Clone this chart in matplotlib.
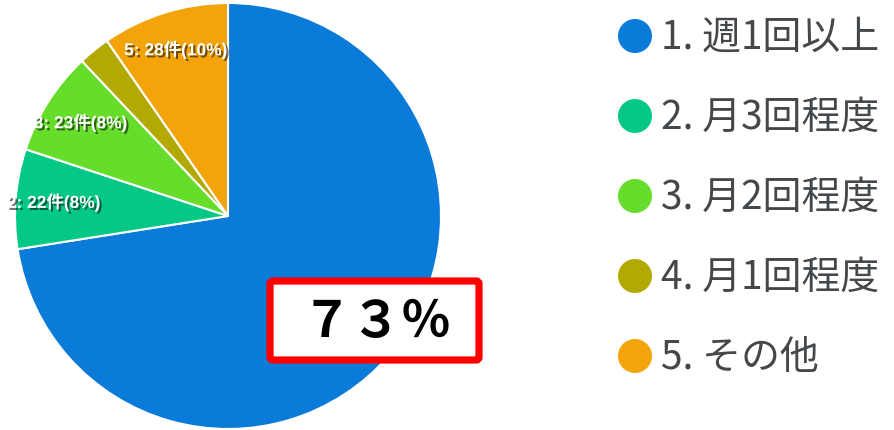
import matplotlib
matplotlib.use("Agg")
import matplotlib.pyplot as plt
import matplotlib.patheffects as pe
from matplotlib.patches import Ellipse, FancyBboxPatch
import numpy as np

categories = ["1. 週1回以上", "2. 月3回程度", "3. 月2回程度", "4. 月1回程度", "5. その他"]
counts = [211, 22, 23, 7, 28]
slice_labels = ["", "2: 22件(8%)", "3: 23件(8%)", "", "5: 28件(10%)"]
colors = ["#0a7bd8", "#04c986", "#66dd2b", "#b3a903", "#f4a40b"]
highlight = "７３％"

W, H = 894, 431
fig = plt.figure(figsize=(W / 100, H / 100), dpi=100)

cx, cy, r = 228, 431 - 217, 213
ax = fig.add_axes([(cx - r) / W, (cy - r) / H, 2 * r / W, 2 * r / H])
wedges, _ = ax.pie(counts, colors=colors, startangle=90, counterclock=False,
                   radius=1, wedgeprops=dict(edgecolor="white", linewidth=1.5))
ax.set_xlim(-1, 1)
ax.set_ylim(-1, 1)
ax.set_aspect("equal")
ax.axis("off")

for w, lab in zip(wedges, slice_labels):
    if not lab:
        continue
    ang = np.deg2rad((w.theta1 + w.theta2) / 2)
    x, y = 0.82 * np.cos(ang), 0.82 * np.sin(ang)
    ax.text(x, y, lab, ha="center", va="center", color="white", fontsize=12.5,
            fontweight="bold", family=["Liberation Sans", "Noto Sans CJK JP"],
            path_effects=[pe.SimplePatchShadow(offset=(1.5, -1.5), shadow_rgbFace="black", alpha=0.55),
                          pe.Normal()])

ov = fig.add_axes([0, 0, 1, 1])
ov.set_xlim(0, W)
ov.set_ylim(H, 0)
ov.axis("off")
ov.patch.set_alpha(0)

# highlight box
box = FancyBboxPatch((270, 282), 209, 79, boxstyle="round,pad=0,rounding_size=3",
                     facecolor="white", edgecolor="#ff0000", linewidth=5.2)
ov.add_patch(box)
ov.text(377, 323, highlight, ha="center", va="center", fontsize=36, color="black",
        fontweight="bold", family=["Noto Sans CJK JP"])

# legend
ys = [37, 117, 197, 277, 357]
for yy, c, t in zip(ys, colors, categories):
    ov.add_patch(Ellipse((635, yy), 34, 34, facecolor=c, edgecolor="none"))
    ov.text(661, yy + 1, t, ha="left", va="center", fontsize=28, color="#45484b",
            family=["Noto Sans CJK JP"])

fig.savefig("out.png", dpi=100)
